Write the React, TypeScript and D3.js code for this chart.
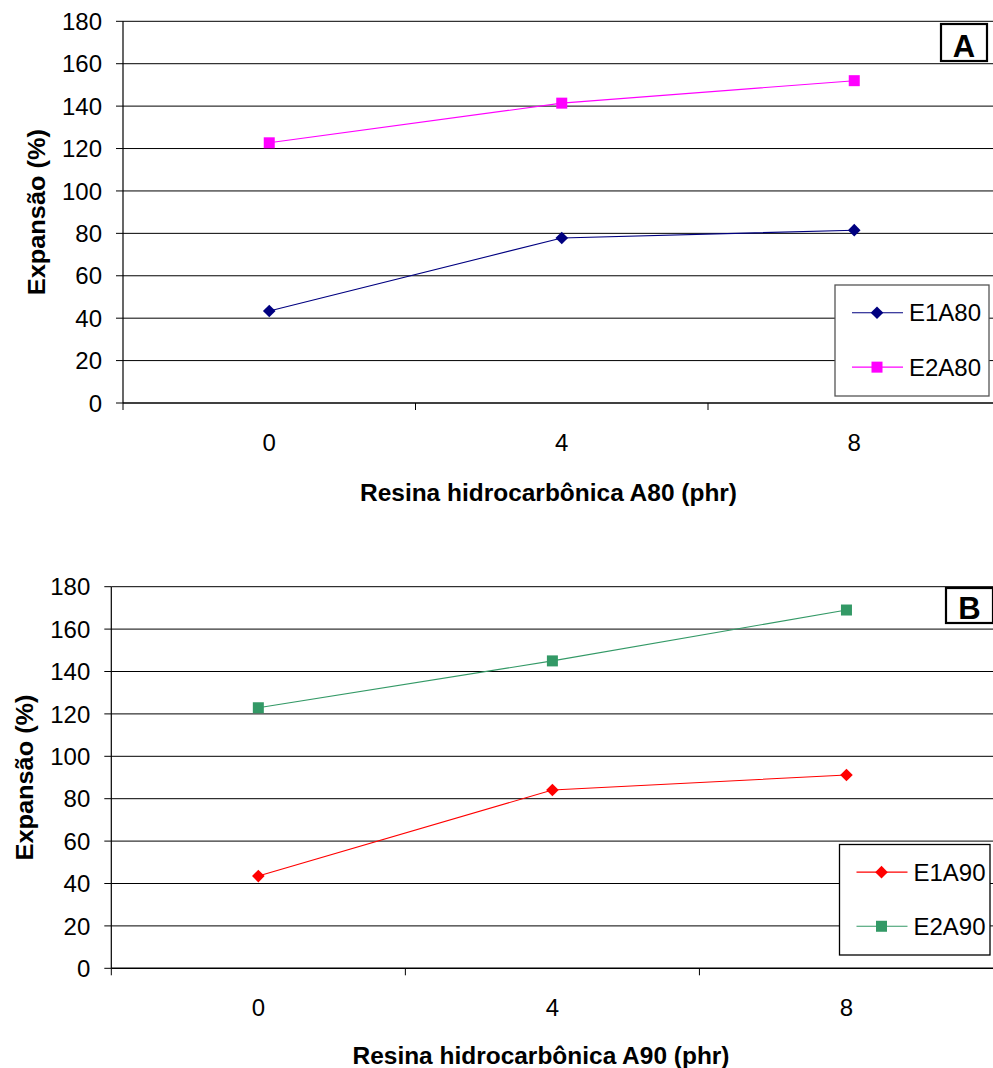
import React from "react";
import * as d3 from "d3";

const categories = ["0", "4", "8"];
const yTicks = [0, 20, 40, 60, 80, 100, 120, 140, 160, 180];
const e1a80 = [43.4, 77.8, 81.5];
const e2a80 = [122.7, 141.4, 152.0];
const e1a90 = [43.5, 84.1, 91.2];
const e2a90 = [122.9, 145.0, 169.0];

const FONT = "'Liberation Sans', Arial, Helvetica, sans-serif";

type Series = { name: string; values: number[]; color: string; marker: "diamond" | "square" };

type PanelProps = {
  left: number;
  right: number;
  top: number;
  bottom: number;
  letter: string;
  letterBox: [number, number, number, number];
  legendBox: [number, number, number, number];
  legendBorder: string;
  series: Series[];
  xTitle: string;
  xTitleX: number;
  xTitleY: number;
  yTitleX: number;
};

function Marker({ x, y, color, kind }: { x: number; y: number; color: string; kind: string }) {
  if (kind === "diamond") {
    const r = 6.3;
    return <path d={`M${x},${y - r}L${x + r},${y}L${x},${y + r}L${x - r},${y}Z`} fill={color} />;
  }
  const s = 11;
  return <rect x={x - s / 2} y={y - s / 2} width={s} height={s} fill={color} />;
}

function Panel(p: PanelProps) {
  const x = d3.scaleBand<string>().domain(categories).range([p.left, p.right]).padding(0);
  const y = d3.scaleLinear().domain([0, 180]).range([p.bottom, p.top]);
  const cx = (c: string) => (x(c) as number) + x.bandwidth() / 2;
  const line = d3
    .line<number>()
    .x((_, i) => cx(categories[i]))
    .y((v) => y(v));
  const boundaries = [p.left, ...categories.map((c) => (x(c) as number) + x.bandwidth())];
  const [lx0, ly0, lx1, ly1] = p.legendBox;
  const [bx0, by0, bx1, by1] = p.letterBox;
  const legendRows = [ly0 + (ly1 - ly0) * 0.25, ly0 + (ly1 - ly0) * 0.74];
  return (
    <g>
      {yTicks.filter((t) => t > 0).map((t) => (
        <line key={"g" + t} x1={p.left} x2={p.right} y1={y(t)} y2={y(t)} stroke="#000" strokeWidth={1} />
      ))}
      {yTicks.map((t) => (
        <g key={"yt" + t}>
          <line x1={p.left - 7} x2={p.left} y1={y(t)} y2={y(t)} stroke="#000" strokeWidth={1} />
          <text x={p.left - 21} y={y(t)} dy="0.36em" textAnchor="end" fontSize={24} fontFamily={FONT} fill="#000">
            {t}
          </text>
        </g>
      ))}
      <line x1={p.left} x2={p.left} y1={p.top} y2={p.bottom} stroke="#000" strokeWidth={1.2} />
      <line x1={p.left} x2={p.right} y1={p.bottom} y2={p.bottom} stroke="#000" strokeWidth={1.4} />
      {boundaries.map((b, i) => (
        <line key={"xt" + i} x1={b} x2={b} y1={p.bottom} y2={p.bottom + 7} stroke="#000" strokeWidth={1} />
      ))}
      {categories.map((c) => (
        <text key={"xl" + c} x={cx(c)} y={p.bottom + 48} textAnchor="middle" fontSize={24} fontFamily={FONT} fill="#000">
          {c}
        </text>
      ))}
      {p.series.map((s) => (
        <g key={s.name}>
          <path d={line(s.values) || ""} fill="none" stroke={s.color} strokeWidth={1.1} />
          {s.values.map((v, i) => (
            <Marker key={i} x={cx(categories[i])} y={y(v)} color={s.color} kind={s.marker} />
          ))}
        </g>
      ))}
      <rect x={lx0} y={ly0} width={lx1 - lx0} height={ly1 - ly0} fill="#fff" stroke={p.legendBorder} strokeWidth={1.3} />
      {p.series.map((s, i) => (
        <g key={"lg" + s.name}>
          <line x1={lx0 + 17} x2={lx0 + 68} y1={legendRows[i]} y2={legendRows[i]} stroke={s.color} strokeWidth={1.1} />
          <Marker x={lx0 + 42} y={legendRows[i]} color={s.color} kind={s.marker} />
          <text x={lx0 + 74} y={legendRows[i]} dy="0.36em" fontSize={24} fontFamily={FONT} fill="#000">
            {s.name}
          </text>
        </g>
      ))}
      <rect x={bx0} y={by0} width={bx1 - bx0} height={by1 - by0} fill="#fff" stroke="#000" strokeWidth={2.2} />
      <text x={(bx0 + bx1) / 2} y={by1 - 4.5} textAnchor="middle" fontSize={31} fontWeight="bold" fontFamily={FONT} fill="#000">
        {p.letter}
      </text>
      <text x={p.xTitleX} y={p.xTitleY} textAnchor="middle" fontSize={23} fontWeight="bold" fontFamily={FONT} fill="#000" textLength={377} lengthAdjust="spacingAndGlyphs">
        {p.xTitle}
      </text>
      <text
        transform={`translate(${p.yTitleX},${(p.top + p.bottom) / 2}) rotate(-90)`}
        textAnchor="middle"
        fontSize={24}
        fontWeight="bold"
        fontFamily={FONT}
        fill="#000"
        textLength={166}
        lengthAdjust="spacingAndGlyphs"
      >
        Expansão (%)
      </text>
    </g>
  );
}

export default function App() {
  return (
    <svg
      width={993}
      height={1068}
      style={{ position: "absolute", left: 0, top: 0, display: "block", background: "#fff" }}
    >
      <rect x={0} y={0} width={993} height={1068} fill="#fff" />
      <Panel
        left={123}
        right={1000.5}
        top={21.3}
        bottom={403}
        letter="A"
        letterBox={[941, 24, 987, 61]}
        legendBox={[835, 285, 989, 396]}
        legendBorder="#555"
        series={[
          { name: "E1A80", values: e1a80, color: "#000080", marker: "diamond" },
          { name: "E2A80", values: e2a80, color: "#FF00FF", marker: "square" },
        ]}
        xTitle="Resina hidrocarbônica A80 (phr)"
        xTitleX={548.5}
        xTitleY={501}
        yTitleX={45}
      />
      <Panel
        left={111.3}
        right={993.5}
        top={586.7}
        bottom={968.3}
        letter="B"
        letterBox={[946, 588, 993, 623]}
        legendBox={[839.5, 844.5, 990, 955]}
        legendBorder="#000"
        series={[
          { name: "E1A90", values: e1a90, color: "#FF0000", marker: "diamond" },
          { name: "E2A90", values: e2a90, color: "#339966", marker: "square" },
        ]}
        xTitle="Resina hidrocarbônica A90 (phr)"
        xTitleX={541}
        xTitleY={1064}
        yTitleX={33}
      />
    </svg>
  );
}
